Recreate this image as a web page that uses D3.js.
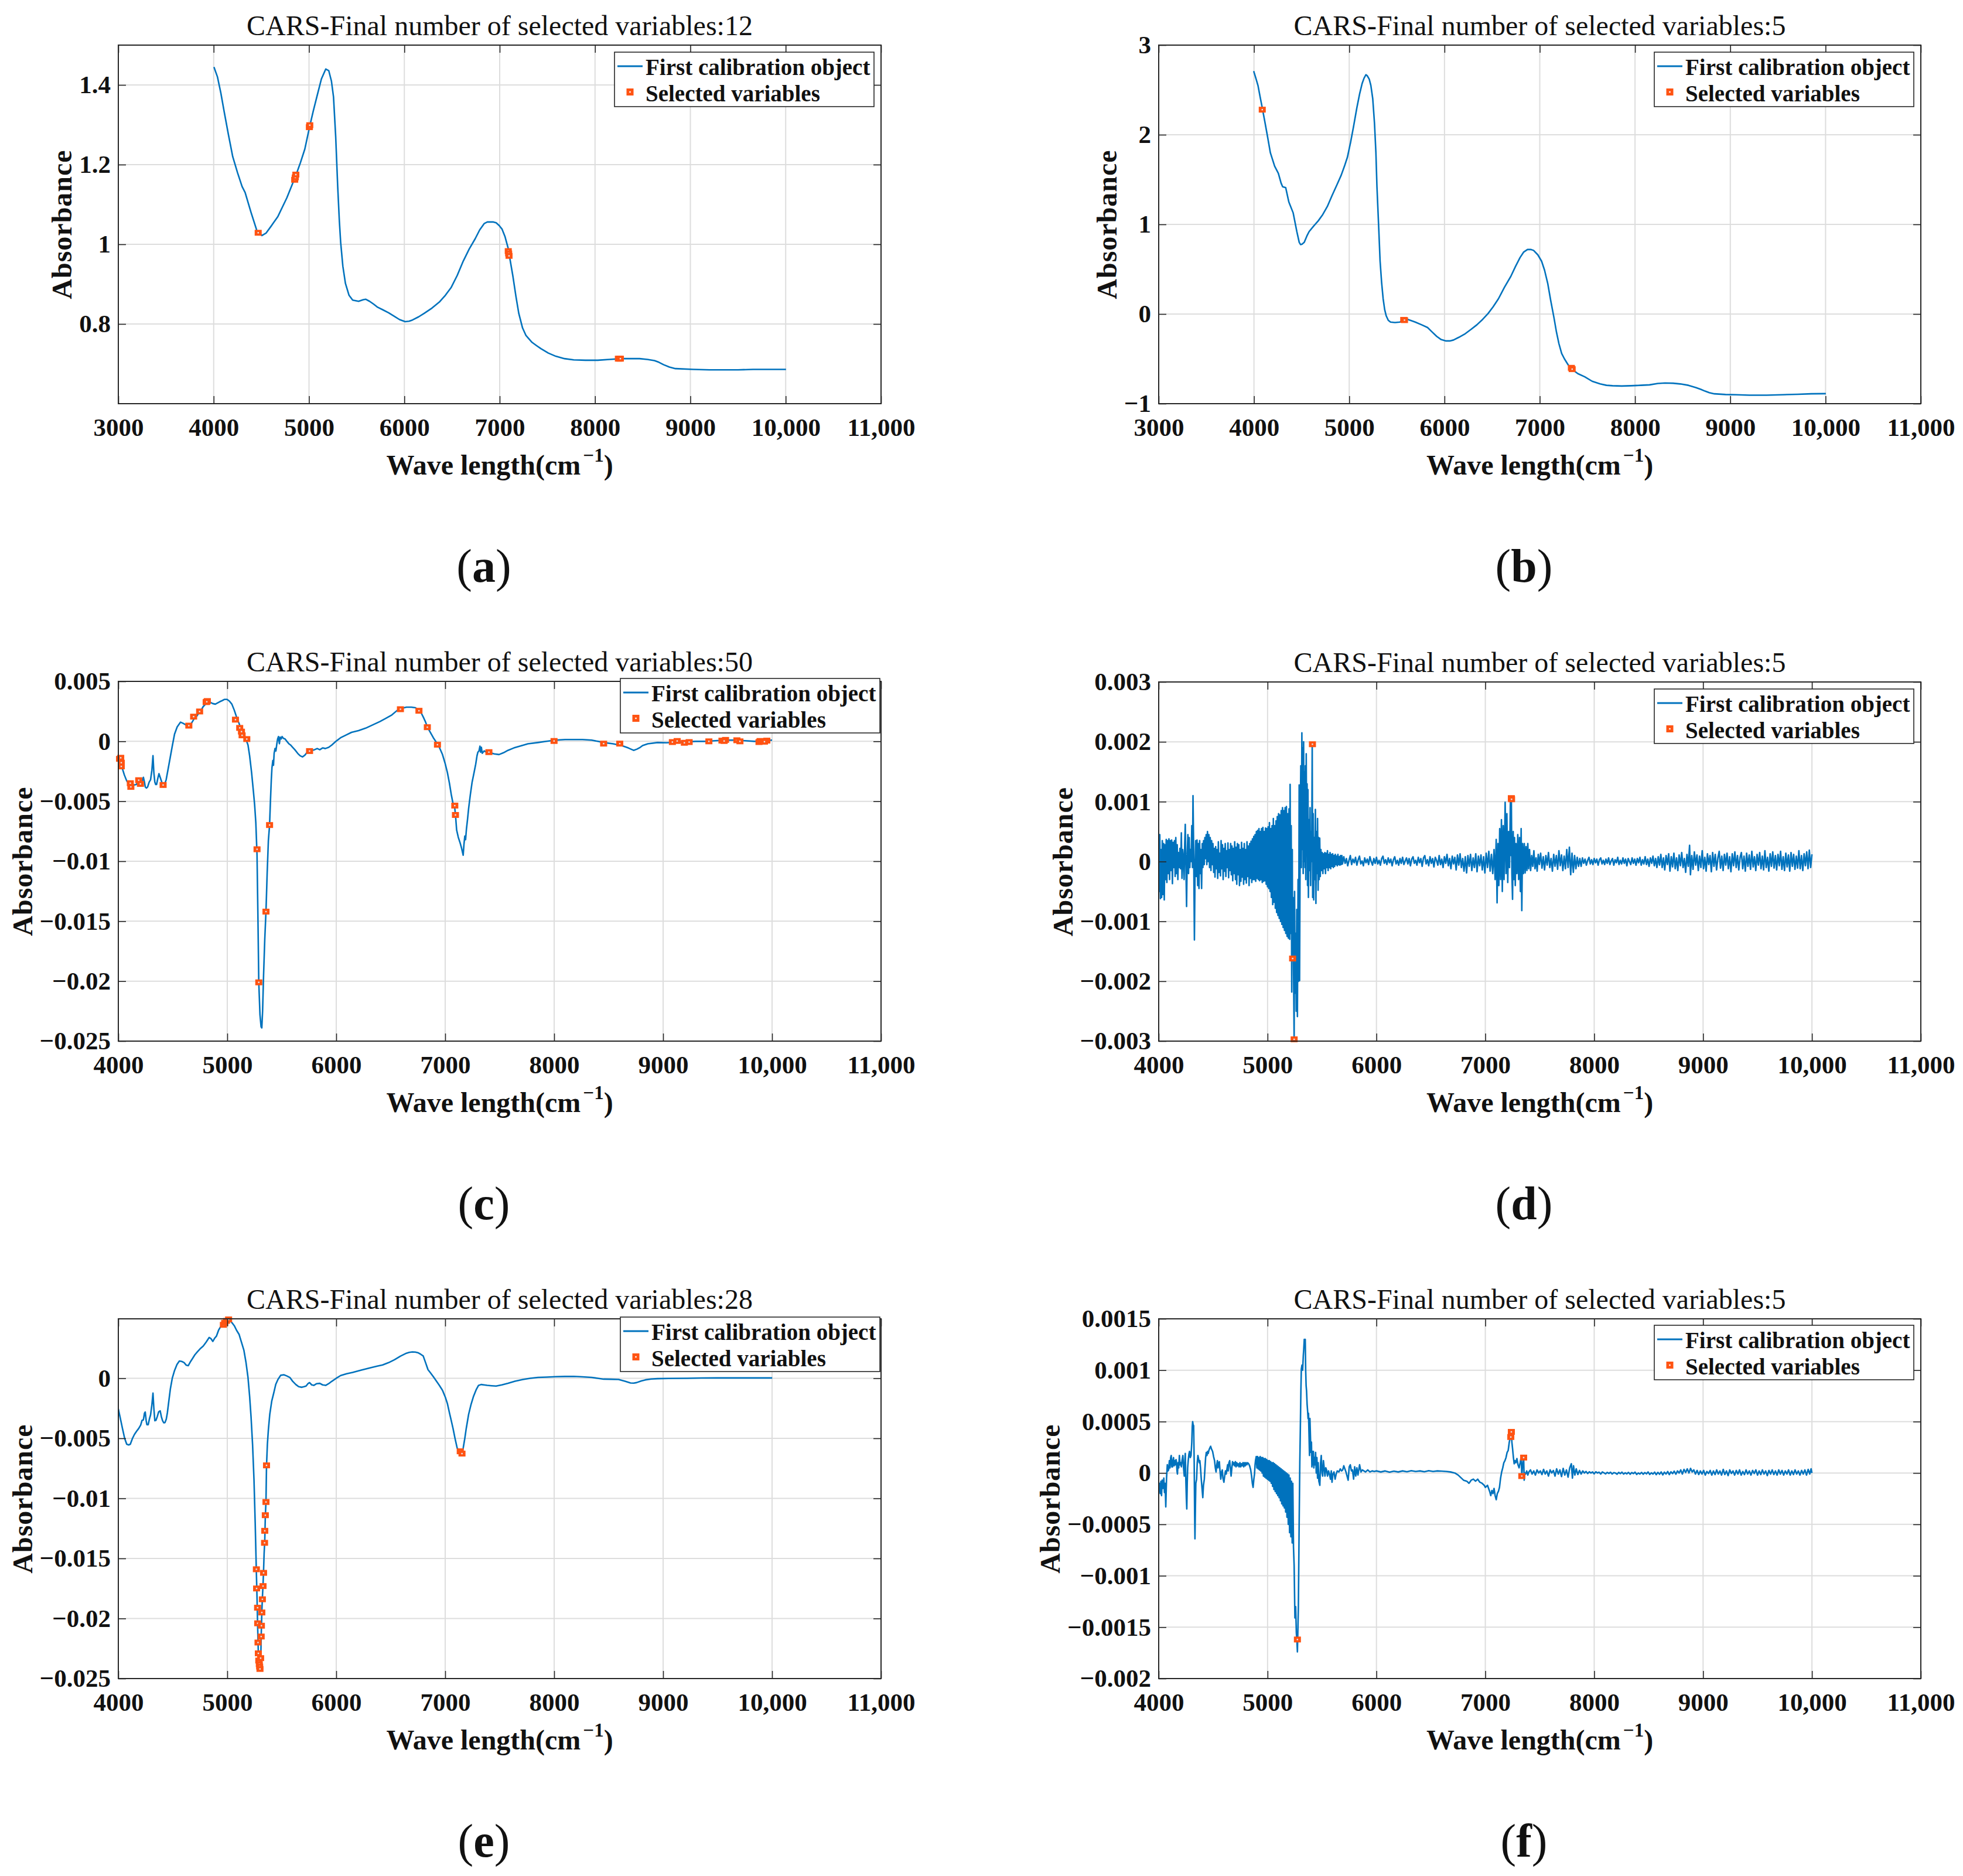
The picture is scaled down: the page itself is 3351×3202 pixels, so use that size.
<!DOCTYPE html>
<html>
<head>
<meta charset="utf-8">
<title>CARS selected variables</title>
<script src="https://d3js.org/d3.v7.min.js"></script>
<style>
  body { margin: 0; background: #fff; }
  svg text { font-family: 'Liberation Serif', 'Times New Roman', serif; }
</style>
</head>
<body>
<script>
// ---- data ----
// (a), (b): absorbance. (c)-(f): values kept in units of 10^-3 absorbance,
// tick labels below are the real numbers.

var titles = [
  'CARS-Final number of selected variables:12',
  'CARS-Final number of selected variables:5',
  'CARS-Final number of selected variables:50',
  'CARS-Final number of selected variables:5',
  'CARS-Final number of selected variables:28',
  'CARS-Final number of selected variables:5'
];
var panelLetters = ['a', 'b', 'c', 'd', 'e', 'f'];
var legendLabels = ['First calibration object', 'Selected variables'];

var xTicksWide = [3000, 4000, 5000, 6000, 7000, 8000, 9000, 10000, 11000];
var xTickLabelsWide = ['3000', '4000', '5000', '6000', '7000', '8000', '9000', '10,000', '11,000'];
var xTicksNarrow = [4000, 5000, 6000, 7000, 8000, 9000, 10000, 11000];
var xTickLabelsNarrow = ['4000', '5000', '6000', '7000', '8000', '9000', '10,000', '11,000'];

var yTicksA = [0.8, 1, 1.2, 1.4];
var yTickLabelsA = ['0.8', '1', '1.2', '1.4'];
var yTicksB = [-1, 0, 1, 2, 3];
var yTickLabelsB = ['\u22121', '0', '1', '2', '3'];
var yTicksC = [-25, -20, -15, -10, -5, 0, 5];
var yTickLabelsC = ['\u22120.025', '\u22120.02', '\u22120.015', '\u22120.01', '\u22120.005', '0', '0.005'];
var yTicksD = [-3, -2, -1, 0, 1, 2, 3];
var yTickLabelsD = ['\u22120.003', '\u22120.002', '\u22120.001', '0', '0.001', '0.002', '0.003'];
var yTicksE = [-25, -20, -15, -10, -5, 0];
var yTickLabelsE = ['\u22120.025', '\u22120.02', '\u22120.015', '\u22120.01', '\u22120.005', '0'];
var yTicksF = [-2, -1.5, -1, -0.5, 0, 0.5, 1, 1.5];
var yTickLabelsF = ['\u22120.002', '\u22120.0015', '\u22120.001', '\u22120.0005', '0', '0.0005', '0.001', '0.0015'];

var specA = [[4003,1.445],[4040,1.42],[4075,1.38],[4110,1.333],[4155,1.275],[4200,1.22],[4250,1.18],[4298,1.145],
  [4330,1.13],[4392,1.08],[4455,1.033],[4505,1.022],[4549,1.028],[4610,1.048],[4674,1.07],[4720,1.093],[4768,1.117],
  [4815,1.145],[4862,1.173],[4910,1.205],[4956,1.239],[5006,1.295],[5045,1.335],[5082,1.37],[5130,1.415],[5176,1.44],
  [5207,1.436],[5235,1.41],[5257,1.37],[5280,1.27],[5301,1.145],[5318,1.06],[5332,1.005],[5355,0.945],[5382,0.902],
  [5420,0.872],[5458,0.86],[5520,0.857],[5570,0.861],[5596,0.862],[5635,0.857],[5677,0.85],[5720,0.842],[5771,0.836],
  [5835,0.828],[5897,0.819],[5950,0.811],[6009,0.806],[6050,0.807],[6085,0.81],[6150,0.818],[6210,0.827],[6290,0.84],
  [6367,0.855],[6430,0.872],[6492,0.892],[6555,0.922],[6618,0.958],[6680,0.988],[6743,1.014],[6790,1.036],[6837,1.052],
  [6870,1.056],[6900,1.056],[6935,1.056],[6963,1.054],[6995,1.047],[7025,1.038],[7055,1.02],[7088,0.991],[7110,0.96],
  [7138,0.921],[7170,0.87],[7200,0.827],[7240,0.79],[7276,0.771],[7339,0.754],[7385,0.746],[7433,0.738],[7510,0.727],
  [7589,0.719],[7680,0.713],[7777,0.71],[7900,0.709],[8028,0.709],[8150,0.711],[8279,0.713],[8380,0.713],[8467,0.713],
  [8550,0.711],[8624,0.708],[8670,0.704],[8718,0.698],[8780,0.692],[8843,0.688],[9031,0.686],[9200,0.685],[9345,0.685],
  [9500,0.685],[9658,0.686],[9850,0.686],[10003,0.686]];
var selA = [[4467,1.029],[4850,1.162],[4856,1.168],[4862,1.175],[5004,1.294],[5008,1.299],[7090,0.983],[7094,0.977],
  [7098,0.971],[8245,0.713],[8256,0.713],[8266,0.713]];

var specB = [[3997,2.71],[4020,2.63],[4042,2.55],[4065,2.42],[4087,2.30],[4115,2.14],[4139,2.0],[4172,1.8],[4217,1.65],
  [4256,1.57],[4285,1.46],[4301,1.42],[4333,1.41],[4366,1.25],[4411,1.13],[4450,0.92],[4475,0.8],[4489,0.775],[4505,0.78],
  [4528,0.8],[4555,0.87],[4579,0.92],[4625,0.98],[4675,1.04],[4722,1.11],[4770,1.2],[4819,1.32],[4870,1.44],[4916,1.55],
  [4950,1.65],[4981,1.75],[5015,1.92],[5045,2.09],[5080,2.3],[5110,2.46],[5135,2.57],[5155,2.63],[5175,2.67],[5188,2.66],
  [5210,2.62],[5227,2.55],[5247,2.4],[5265,2.13],[5280,1.8],[5291,1.42],[5310,0.95],[5324,0.59],[5340,0.35],[5356,0.17],
  [5372,0.05],[5388,-0.02],[5410,-0.07],[5434,-0.09],[5480,-0.095],[5531,-0.09],[5570,-0.07],[5615,-0.06],[5655,-0.075],
  [5693,-0.09],[5760,-0.12],[5822,-0.15],[5870,-0.2],[5919,-0.25],[5965,-0.285],[6016,-0.3],[6055,-0.3],[6094,-0.29],
  [6150,-0.26],[6210,-0.225],[6280,-0.17],[6340,-0.12],[6400,-0.06],[6456,0.004],[6510,0.08],[6566,0.17],[6630,0.3],
  [6696,0.42],[6745,0.53],[6793,0.63],[6830,0.69],[6871,0.72],[6905,0.72],[6935,0.71],[6980,0.66],[7019,0.59],[7050,0.49],
  [7084,0.34],[7115,0.15],[7149,-0.04],[7175,-0.2],[7201,-0.33],[7230,-0.44],[7259,-0.5],[7300,-0.57],[7343,-0.62],
  [7400,-0.665],[7472,-0.7],[7550,-0.75],[7634,-0.78],[7700,-0.795],[7764,-0.8],[7860,-0.803],[7958,-0.8],[8060,-0.795],
  [8152,-0.79],[8240,-0.775],[8314,-0.77],[8400,-0.772],[8476,-0.78],[8560,-0.795],[8638,-0.82],[8690,-0.84],[8735,-0.86],
  [8780,-0.877],[8832,-0.89],[8950,-0.898],[9058,-0.9],[9200,-0.905],[9382,-0.905],[9550,-0.9],[9706,-0.895],[9850,-0.89],
  [10003,-0.888]];
var selB = [[4087,2.28],[5572,-0.065],[5580,-0.068],[7332,-0.60],[7340,-0.615]];

var specC = [[4000,-1.3],[4012,-1.6],[4025,-1.9],[4038,-2.3],[4055,-2.8],[4077,-3.3],[4100,-3.6],[4121,-3.7],[4140,-3.65],
  [4165,-3.6],[4185,-3.3],[4203,-3.2],[4220,-3.3],[4230,-3.0],[4240,-3.4],[4247,-3.8],[4258,-3.9],[4269,-3.8],[4283,-3.4],
  [4296,-3.2],[4308,-2.4],[4318,-1.2],[4326,-2.6],[4335,-3.4],[4343,-3.6],[4351,-3.6],[4362,-3.1],[4373,-2.7],[4384,-3.0],
  [4395,-3.3],[4406,-3.6],[4417,-3.8],[4428,-3.5],[4439,-3.2],[4455,-2.4],[4477,-1.3],[4495,-0.4],[4516,0.6],[4540,1.2],
  [4571,1.6],[4595,1.5],[4614,1.4],[4636,1.3],[4658,1.3],[4677,1.6],[4697,1.9],[4720,2.1],[4741,2.4],[4760,2.6],[4779,2.9],
  [4800,3.1],[4823,3.3],[4845,3.25],[4867,3.15],[4890,3.1],[4910,3.2],[4930,3.3],[4954,3.4],[4975,3.5],[4998,3.5],
  [5020,3.35],[5042,3.1],[5064,2.6],[5086,2.0],[5108,1.5],[5130,0.9],[5150,0.5],[5170,0.2],[5190,-0.3],[5205,-1.2],
  [5223,-2.6],[5240,-4.2],[5251,-5.3],[5262,-6.8],[5273,-9.5],[5281,-14.5],[5289,-20.1],[5300,-22.8],[5310,-23.8],
  [5317,-23.9],[5324,-22.5],[5333,-19.5],[5344,-16.5],[5355,-14.2],[5366,-11.0],[5377,-8.3],[5388,-7.0],[5396,-5.0],
  [5404,-3.2],[5410,-2.2],[5418,-1.6],[5424,-2.0],[5430,-1.0],[5438,-0.6],[5446,-0.8],[5455,-0.2],[5462,0.2],[5470,0.4],
  [5478,-0.2],[5486,0.35],[5495,0.2],[5503,0.4],[5515,0.25],[5530,0.2],[5547,0.0],[5565,-0.2],[5580,-0.3],[5600,-0.5],
  [5620,-0.7],[5646,-1.0],[5668,-1.2],[5690,-1.3],[5712,-1.15],[5734,-0.9],[5755,-0.8],[5777,-0.75],[5800,-0.7],
  [5825,-0.6],[5849,-0.7],[5875,-0.55],[5900,-0.6],[5931,-0.5],[5960,-0.3],[5997,0.0],[6040,0.3],[6084,0.5],[6140,0.75],
  [6205,0.9],[6270,1.1],[6342,1.4],[6400,1.65],[6452,1.9],[6510,2.2],[6562,2.6],[6600,2.75],[6644,2.85],[6690,2.85],
  [6727,2.8],[6760,2.6],[6781,2.35],[6800,2.0],[6820,1.6],[6836,1.2],[6860,0.8],[6891,0.3],[6920,-0.1],[6946,-0.5],
  [6975,-1.1],[7001,-1.9],[7020,-2.6],[7039,-3.5],[7055,-4.4],[7072,-5.2],[7088,-5.6],[7094,-6.1],[7105,-7.4],[7120,-8.0],
  [7138,-8.5],[7150,-8.9],[7160,-9.3],[7165,-9.5],[7172,-8.6],[7180,-7.9],[7187,-8.2],[7195,-7.3],[7205,-6.5],[7215,-5.6],
  [7230,-4.5],[7247,-3.4],[7265,-2.6],[7280,-1.9],[7292,-1.2],[7300,-0.9],[7310,-0.8],[7319,-0.4],[7325,-0.9],[7332,-0.5],
  [7340,-1.0],[7357,-0.8],[7380,-0.9],[7412,-0.95],[7450,-1.05],[7494,-1.1],[7535,-0.95],[7576,-0.75],[7630,-0.55],
  [7686,-0.4],[7760,-0.2],[7851,-0.1],[7930,0.0],[8015,0.1],[8100,0.15],[8180,0.15],[8260,0.15],[8344,0.1],[8400,0.0],
  [8454,-0.1],[8540,-0.2],[8619,-0.35],[8680,-0.55],[8729,-0.75],[8760,-0.65],[8790,-0.5],[8812,-0.35],[8860,-0.2],
  [8949,-0.1],[9030,-0.12],[9114,-0.08],[9200,-0.05],[9300,0.0],[9388,0.0],[9480,0.05],[9570,0.1],[9662,0.1],[9750,0.05],
  [9840,0.0],[9920,0.05],[10000,0.1]];
var selC = [[4011,-1.46],[4022,-1.37],[4027,-1.78],[4027,-2.09],[4110,-3.49],[4115,-3.8],[4187,-3.24],[4203,-3.55],
  [4411,-3.64],[4647,1.31],[4691,2.06],[4746,2.49],[4806,3.27],[4817,3.36],[4812,3.3],[5075,1.81],[5114,1.12],[5130,0.81],
  [5136,0.5],[5179,0.19],[5273,-9.0],[5289,-20.1],[5355,-14.2],[5388,-6.98],[5755,-0.81],[6589,2.68],[6759,2.55],
  [6836,1.18],[6929,-0.28],[7088,-5.36],[7094,-6.14],[7401,-0.9],[7999,0.03],[8454,-0.19],[8602,-0.19],[9085,-0.06],
  [9129,0.03],[9195,-0.12],[9239,-0.06],[9420,0.0],[9540,0.06],[9573,0.12],[9677,0.09],[9705,0.0],[9880,-0.06],
  [9890,0.03],[9908,0.0],[9952,0.06],[9930,-0.03],[9560,0.03]];

var specD = [[4000,0.1],[4005,-0.5],[4010,0.45],[4016,-0.62],[4022,0.2],[4027,-0.6],[4033,0.35],[4039,-0.55],[4045,0.3],
  [4051,-0.64],[4057,0.28],[4063,-0.3],[4069,0.37],[4075,-0.35],[4082,0.35],[4088,-0.2],[4094,0.38],[4100,-0.3],[4107,0.35],
  [4113,-0.15],[4119,0.36],[4126,-0.37],[4132,0.32],[4138,-0.1],[4145,0.35],[4151,-0.25],[4157,0.4],[4163,-0.2],[4170,0.28],
  [4176,-0.3],[4182,0.15],[4188,-0.1],[4195,0.22],[4201,-0.12],[4208,0.48],[4214,-0.28],[4220,0.2],[4227,0.05],[4233,-0.3],
  [4239,0.3],[4244,0.62],[4250,-0.1],[4256,-0.75],[4262,0.1],[4268,0.45],[4274,-0.2],[4280,0.4],[4286,-0.1],[4292,0.2],
  [4298,0.0],[4304,0.6],[4310,-0.1],[4315,1.1],[4321,0.2],[4328,-1.31],[4334,-0.1],[4340,0.35],[4346,-0.25],[4352,0.36],
  [4358,-0.4],[4364,0.3],[4370,-0.45],[4376,0.35],[4382,-0.2],[4388,0.2],[4394,-0.45],[4400,0.3],[4406,-0.1],[4412,0.35],
  [4418,-0.05],[4424,0.4],[4430,0.05],[4436,0.45],[4442,-0.05],[4448,0.5],[4455,0.0],[4461,0.45],[4467,-0.1],[4473,0.4],
  [4480,-0.15],[4486,0.35],[4492,-0.05],[4498,0.3],[4505,-0.18],[4511,0.22],[4517,-0.26],[4523,0.25],[4530,-0.12],[4536,0.2],
  [4542,-0.28],[4548,0.33],[4555,-0.18],[4561,0.14],[4567,-0.24],[4573,0.35],[4580,-0.12],[4586,0.28],[4592,-0.3],[4598,0.22],
  [4605,-0.16],[4611,0.3],[4617,-0.25],[4623,0.18],[4630,-0.1],[4636,0.31],[4642,-0.27],[4648,0.2],[4655,-0.15],[4661,0.3],
  [4667,-0.22],[4673,0.26],[4680,-0.32],[4686,0.22],[4692,-0.2],[4698,0.33],[4705,-0.3],[4711,0.24],[4717,-0.38],[4723,0.3],
  [4730,-0.22],[4736,0.28],[4742,-0.4],[4748,0.2],[4755,-0.33],[4761,0.32],[4767,-0.26],[4773,0.22],[4780,-0.38],[4786,0.3],
  [4792,-0.3],[4798,0.2],[4805,-0.36],[4811,0.33],[4817,-0.25],[4823,0.26],[4830,-0.4],[4836,0.3],[4842,-0.28],[4848,0.34],
  [4855,-0.35],[4861,0.38],[4867,-0.3],[4873,0.42],[4879,-0.3],[4885,0.45],[4891,-0.33],[4897,0.5],[4903,-0.28],[4909,0.52],
  [4915,-0.3],[4921,0.55],[4927,-0.32],[4933,0.5],[4939,-0.3],[4945,0.55],[4951,-0.35],[4957,0.57],[4963,-0.33],[4969,0.5],
  [4975,-0.32],[4981,0.56],[4987,-0.38],[4993,0.55],[4999,-0.42],[5005,0.58],[5011,-0.45],[5017,0.65],[5023,-0.5],
  [5029,0.55],[5035,-0.6],[5041,0.6],[5047,-0.72],[5053,0.72],[5059,-0.68],[5065,0.6],[5071,-0.78],[5077,0.68],[5083,-0.85],
  [5089,0.75],[5095,-0.9],[5101,0.8],[5107,-0.95],[5113,0.78],[5119,-1.0],[5125,0.85],[5131,-1.05],[5137,0.9],[5143,-1.1],
  [5149,0.85],[5155,-1.15],[5161,0.9],[5167,-1.2],[5173,0.92],[5179,-1.25],[5185,0.8],[5191,-1.28],[5197,0.88],[5203,-1.3],
  [5207,1.29],[5212,-1.2],[5217,0.6],[5222,-2.18],[5227,0.2],[5230,-1.62],[5234,-0.6],[5239,-1.9],[5244,-3.0],[5248,-0.5],
  [5253,-2.2],[5258,-1.2],[5263,-2.5],[5268,-0.8],[5274,-2.59],[5280,-0.3],[5285,-2.0],[5290,1.28],[5294,-1.99],[5300,0.6],
  [5305,1.6],[5310,-0.1],[5315,2.15],[5319,0.2],[5323,1.9],[5327,-0.2],[5331,2.0],[5335,0.0],[5339,1.5],[5343,-0.1],
  [5347,1.6],[5351,-0.3],[5355,1.8],[5359,0.3],[5363,1.3],[5367,-0.4],[5371,1.2],[5375,-0.6],[5380,0.7],[5385,-0.15],
  [5390,0.9],[5395,-0.4],[5400,0.5],[5405,0.0],[5410,1.96],[5414,-0.6],[5419,0.8],[5424,-0.64],[5429,0.4],[5434,-0.3],
  [5439,0.87],[5444,-0.7],[5449,0.5],[5454,-0.2],[5459,0.72],[5464,-0.48],[5469,0.4],[5474,-0.3],[5479,0.39],[5484,-0.25],
  [5490,0.2],[5496,-0.15],[5502,0.15],[5508,-0.2],[5514,0.13],[5520,-0.12],[5526,0.15],[5532,-0.2],[5538,0.14],[5544,-0.1],
  [5550,0.18],[5556,-0.15],[5562,0.12],[5568,-0.1],[5574,0.15],[5580,-0.12],[5586,0.12],[5592,-0.08],[5598,0.13],
  [5604,-0.1],[5610,0.1],[5616,-0.08],[5622,0.12],[5628,-0.05],[5634,0.09],[5640,-0.07],[5646,0.12],[5652,-0.05],
  [5658,0.08],[5664,-0.06],[5670,0.1],[5676,-0.05],[5682,0.1],[5688,-0.04],
  [5700,0.08],[5712,-0.03],[5724,0.05],[5736,-0.07],[5748,0.02],[5760,0.1],[5772,-0.05],[5784,0.04],[5796,-0.02],
  [5808,0.07],[5820,-0.06],[5832,0.03],[5844,0.09],[5856,-0.04],[5868,0.01],[5880,-0.07],[5892,0.06],[5904,-0.02],
  [5916,0.04],[5928,-0.05],[5940,0.08],[5952,0.0],[5964,-0.06],[5976,0.05],[5988,-0.03],[6000,0.07],[6012,-0.04],
  [6024,0.02],[6036,-0.06],[6048,0.05],[6060,0.09],[6072,-0.03],[6084,0.03],[6096,-0.05],[6108,0.06],[6120,-0.02],
  [6132,0.04],[6144,-0.07],[6156,0.03],[6168,0.08],[6180,-0.04],[6192,0.02],[6204,-0.06],[6216,0.05],[6228,-0.03],
  [6240,0.07],[6252,-0.05],[6264,0.01],[6276,0.06],[6288,-0.04],[6300,0.05],[6312,-0.07],[6324,0.04],[6336,0.08],
  [6348,-0.03],[6360,0.02],[6372,-0.06],[6384,0.07],[6396,-0.02],[6408,0.05],[6420,-0.08],[6432,0.06],[6444,0.1],
  [6456,-0.04],[6468,0.03],[6480,-0.07],[6492,0.08],[6504,-0.03],[6516,0.05],[6528,-0.09],[6540,0.07],[6552,0.02],
  [6564,-0.06],[6576,0.1],[6588,-0.05],[6600,0.04],[6612,-0.1],[6624,0.08],[6636,-0.03],[6648,0.12],[6660,-0.07],
  [6672,0.05],[6684,-0.12],[6696,0.09],[6708,-0.04],[6720,0.07],[6732,-0.14],[6744,0.11],[6756,-0.06],[6768,0.13],
  [6780,-0.1],[6792,0.05],[6804,-0.16],[6816,0.08],[6828,-0.19],[6840,0.1],[6852,-0.08],[6864,0.12],[6876,-0.15],
  [6888,0.06],[6900,-0.1],[6912,0.13],[6924,-0.17],[6936,0.09],[6948,-0.07],[6960,0.11],[6972,-0.14],[6984,0.08],
  [6996,-0.19],[7008,0.14],[7020,-0.1],[7032,0.17],[7044,-0.16],[7056,0.12],[7068,-0.2],[7080,0.2],[7090,-0.3],
  [7100,0.37],[7108,-0.69],[7116,0.3],[7124,-0.4],[7132,0.55],[7140,-0.3],[7148,0.7],[7156,-0.5],[7164,0.6],[7172,-0.3],
  [7182,0.99],[7190,-0.2],[7198,0.8],[7206,-0.35],[7214,0.5],[7222,-0.1],[7230,0.99],[7236,0.1],[7239,1.06],[7244,-0.2],
  [7250,-0.63],[7256,0.5],[7262,-0.3],[7268,0.4],[7275,-0.4],[7282,0.3],[7290,-0.2],[7298,0.45],[7306,-0.3],[7314,0.4],
  [7322,-0.5],[7329,0.55],[7335,-0.82],[7342,0.3],[7350,-0.2],[7358,0.3],[7366,-0.19],[7374,0.25],[7382,-0.15],[7390,0.3],
  [7398,-0.12],[7406,0.2],[7416,-0.15],[7426,0.1],[7436,-0.08],[7446,0.18],[7456,-0.12],[7466,0.06],[7476,-0.16],
  [7486,0.12],[7496,-0.05],[7508,0.14],[7520,-0.11],[7532,0.08],[7544,-0.14],[7556,0.1],[7568,-0.06],[7580,0.15],
  [7592,-0.1],[7604,0.05],[7616,-0.16],[7628,0.12],[7640,-0.08],[7652,0.1],[7664,-0.13],[7676,0.18],[7688,-0.07],
  [7700,0.11],[7712,-0.15],[7724,0.09],[7736,-0.12],[7748,0.2],[7760,-0.1],[7772,0.24],[7784,-0.22],[7796,0.14],
  [7808,-0.18],[7820,0.1],[7832,-0.12],[7844,0.07],[7856,-0.08],[7868,0.05],
  [7880,-0.08],[7892,0.06],[7904,-0.03],[7916,0.04],[7928,-0.06],[7940,0.02],[7952,0.07],[7964,-0.04],[7976,0.03],
  [7988,-0.05],[8000,0.05],[8012,-0.02],[8024,0.04],[8036,-0.06],[8048,0.03],[8060,0.06],[8072,-0.04],[8084,0.02],
  [8096,-0.05],[8108,0.04],[8120,-0.03],[8132,0.06],[8144,-0.05],[8156,0.01],[8168,0.05],[8180,-0.06],[8192,0.03],
  [8204,-0.02],[8216,0.07],[8228,-0.05],[8240,0.02],[8252,-0.04],[8264,0.06],[8276,-0.03],[8288,0.04],[8300,-0.07],
  [8312,0.05],[8324,0.0],[8336,-0.05],[8348,0.06],[8360,-0.03],[8372,0.04],[8384,-0.06],[8396,0.05],[8408,-0.02],
  [8420,0.07],[8432,-0.06],[8444,0.03],[8456,-0.04],[8468,0.08],[8480,-0.05],[8492,0.04],[8504,-0.08],[8516,0.06],
  [8528,-0.03],[8540,0.09],[8552,-0.07],[8564,0.05],[8576,-0.1],[8588,0.08],[8600,-0.06],[8612,0.12],[8624,-0.1],
  [8636,0.06],[8648,-0.14],[8660,0.1],[8672,-0.05],[8684,0.13],[8696,-0.16],[8708,0.08],[8720,-0.09],[8732,0.14],
  [8744,-0.12],[8756,0.06],[8768,-0.15],[8780,0.11],[8792,-0.07],[8804,0.15],[8816,-0.1],[8828,0.05],[8840,-0.18],
  [8852,0.12],[8864,-0.08],[8876,0.27],[8884,-0.22],[8896,0.1],[8908,-0.13],[8920,0.16],[8932,-0.06],[8944,0.11],
  [8956,-0.15],[8968,0.09],[8980,-0.1],[8992,0.18],[9004,-0.12],[9016,0.07],[9028,-0.16],[9040,0.13],[9052,-0.05],
  [9064,0.1],[9076,-0.17],[9088,0.15],[9100,-0.08],[9112,0.12],[9124,-0.14],[9136,0.06],[9148,0.17],[9160,-0.11],
  [9172,0.09],[9184,-0.15],[9196,0.12],[9208,-0.06],[9220,0.14],[9232,-0.12],[9244,0.08],[9256,-0.17],[9268,0.13],
  [9280,-0.07],[9292,0.16],[9304,-0.1],[9316,0.1],[9328,-0.14],[9340,0.07],[9352,0.15],[9364,-0.12],[9376,0.09],
  [9388,-0.16],[9400,0.14],[9412,-0.08],[9424,0.11],[9436,-0.13],[9448,0.17],[9460,-0.09],[9472,0.08],[9484,-0.15],
  [9496,0.12],[9508,-0.06],[9520,0.15],[9532,-0.12],[9544,0.09],[9556,-0.14],[9568,0.18],[9580,-0.1],[9592,0.07],
  [9604,-0.16],[9616,0.13],[9628,-0.08],[9640,0.16],[9652,-0.11],[9664,0.1],[9676,-0.14],[9688,0.12],[9700,-0.07],
  [9712,0.17],[9724,-0.13],[9736,0.08],[9748,-0.15],[9760,0.14],[9772,-0.09],[9784,0.11],[9796,-0.16],[9808,0.15],
  [9820,-0.08],[9832,0.12],[9844,-0.13],[9856,0.09],[9868,-0.11],[9880,0.18],[9892,-0.12],[9904,0.1],[9916,-0.15],
  [9928,0.13],[9940,-0.07],[9952,0.16],[9964,-0.12],[9976,0.19],[9988,-0.1],[10000,0.12]];
var selD = [[5230,-1.62],[5244,-2.97],[5412,1.96],[7239,1.06],[7241,1.04]];

var specE = [[4000,-2.55],[4020,-3.4],[4038,-4.18],[4058,-5.0],[4077,-5.49],[4095,-5.55],[4110,-5.49],[4130,-5.0],
  [4148,-4.67],[4168,-4.4],[4187,-4.18],[4205,-3.9],[4218,-3.5],[4230,-3.46],[4240,-2.9],[4247,-2.81],[4255,-3.5],
  [4262,-3.86],[4274,-3.86],[4285,-3.4],[4296,-3.04],[4308,-2.2],[4318,-1.24],[4326,-2.5],[4335,-3.53],[4345,-3.5],
  [4357,-3.2],[4370,-2.8],[4384,-2.71],[4395,-3.2],[4406,-3.53],[4417,-3.7],[4428,-3.69],[4440,-3.4],[4450,-2.88],
  [4462,-2.0],[4477,-0.92],[4495,0.0],[4516,0.65],[4538,1.15],[4560,1.44],[4582,1.4],[4603,1.31],[4622,1.1],[4642,1.05],
  [4660,1.35],[4680,1.63],[4702,1.95],[4724,2.19],[4750,2.45],[4779,2.68],[4805,3.0],[4834,3.4],[4850,3.3],[4867,3.07],
  [4885,3.35],[4900,3.5],[4920,4.0],[4944,4.38],[4965,4.55],[4987,4.71],[5010,4.85],[5026,4.8],[5045,4.6],[5064,4.38],
  [5085,4.0],[5108,3.66],[5130,3.0],[5152,2.35],[5172,1.3],[5190,0.07],[5205,-1.5],[5218,-3.2],[5232,-5.5],[5245,-8.43],
  [5256,-12.0],[5267,-16.2],[5273,-18.3],[5278,-20.4],[5284,-22.6],[5289,-23.5],[5295,-23.9],[5300,-24.2],[5306,-24.1],
  [5311,-21.5],[5317,-19.5],[5322,-18.3],[5328,-17.2],[5333,-16.0],[5338,-14.6],[5344,-13.5],[5349,-11.5],[5355,-10.3],
  [5360,-7.3],[5368,-5.5],[5377,-4.3],[5390,-3.0],[5408,-1.9],[5426,-1.24],[5445,-0.5],[5465,-0.1],[5490,0.25],[5519,0.29],
  [5545,0.2],[5574,0.07],[5600,-0.25],[5629,-0.52],[5655,-0.7],[5684,-0.75],[5705,-0.7],[5723,-0.65],[5740,-0.45],
  [5755,-0.36],[5775,-0.55],[5794,-0.59],[5820,-0.45],[5849,-0.42],[5875,-0.55],[5903,-0.59],[5930,-0.45],[5958,-0.26],
  [6000,0.0],[6041,0.23],[6095,0.38],[6150,0.49],[6230,0.68],[6315,0.88],[6370,1.0],[6425,1.11],[6480,1.3],[6534,1.54],
  [6590,1.85],[6644,2.09],[6670,2.16],[6698,2.19],[6725,2.18],[6753,2.12],[6775,2.0],[6798,1.86],[6820,1.3],[6842,0.72],
  [6865,0.45],[6891,0.13],[6920,-0.25],[6946,-0.59],[6975,-1.0],[7001,-1.57],[7020,-2.1],[7039,-2.88],[7055,-3.5],
  [7072,-4.18],[7090,-5.0],[7110,-5.82],[7125,-6.0],[7138,-6.14],[7150,-6.2],[7158,-6.1],[7165,-5.82],[7180,-5.0],
  [7193,-4.18],[7215,-3.0],[7236,-2.22],[7260,-1.5],[7286,-0.92],[7305,-0.6],[7330,-0.52],[7355,-0.55],[7385,-0.59],
  [7425,-0.62],[7467,-0.65],[7520,-0.55],[7577,-0.42],[7640,-0.25],[7714,-0.1],[7780,0.0],[7851,0.07],[7930,0.1],
  [8015,0.13],[8100,0.15],[8180,0.16],[8260,0.12],[8344,0.07],[8400,0.0],[8454,-0.07],[8520,-0.08],[8591,-0.1],
  [8650,-0.25],[8701,-0.39],[8730,-0.4],[8756,-0.36],[8800,-0.22],[8838,-0.13],[8890,-0.06],[8948,-0.03],[9050,-0.01],
  [9222,0.0],[9350,0.02],[9496,0.03],[9650,0.03],[9771,0.03],[9900,0.03],[10001,0.03]];
var selE = [[4964,4.45],[4976,4.62],[4993,4.78],[5012,4.9],[5267,-15.9],[5269,-17.5],[5278,-19.1],[5279,-20.4],
  [5282,-22.0],[5285,-22.9],[5289,-23.5],[5294,-23.8],[5297,-24.0],[5300,-24.2],[5360,-7.25],[5355,-10.3],[5349,-11.4],
  [5344,-12.7],[5342,-13.7],[5333,-16.2],[5328,-17.3],[5322,-18.4],[5317,-19.5],[5313,-20.6],[5311,-21.5],[5306,-23.3],
  [7138,-6.08],[7154,-6.27]];

var specF = [[4000,-0.19],[4008,-0.1],[4014,-0.2],[4020,-0.08],[4026,-0.22],[4032,-0.07],[4040,-0.15],[4047,-0.05],
  [4053,-0.19],[4059,-0.1],[4065,-0.33],[4072,-0.05],[4079,0.08],[4085,0.02],[4091,0.03],[4098,0.12],[4104,0.05],
  [4110,0.15],[4115,0.17],[4121,0.06],[4127,0.06],[4132,0.13],[4136,0.15],[4142,0.07],[4148,0.12],[4154,0.08],[4159,0.13],
  [4163,0.11],[4168,0.02],[4172,-0.01],[4178,0.1],[4184,0.05],[4190,0.17],[4196,0.08],[4202,0.1],[4208,0.06],[4214,0.12],
  [4222,0.17],[4228,0.05],[4235,-0.03],[4240,0.12],[4244,0.19],[4250,-0.1],[4254,-0.25],[4258,-0.35],[4262,-0.1],
  [4266,0.05],[4271,0.12],[4277,0.18],[4283,0.21],[4290,0.15],[4297,0.17],[4304,0.3],[4308,0.45],[4312,0.5],[4316,0.47],
  [4321,0.46],[4326,0.1],[4330,-0.4],[4333,-0.64],[4337,-0.35],[4341,-0.1],[4348,-0.06],[4354,0.1],[4360,0.17],
  [4366,0.14],[4372,0.1],[4378,0.12],[4384,0.05],[4391,-0.06],[4398,-0.15],[4405,-0.24],[4411,-0.12],[4419,-0.06],
  [4425,0.05],[4431,0.15],[4437,0.2],[4443,0.17],[4449,0.21],[4455,0.19],[4461,0.22],[4468,0.24],[4477,0.26],[4486,0.23],
  [4495,0.21],[4504,0.16],[4513,0.12],[4520,0.05],[4527,0.01],[4533,0.08],[4539,0.12],[4545,0.05],[4551,0.1],[4557,0.11],
  [4563,0.02],[4570,-0.06],[4577,0.01],[4584,0.03],[4590,-0.05],[4599,-0.09],[4606,-0.03],[4613,0.02],[4620,-0.01],
  [4627,0.04],[4633,0.08],[4638,0.02],[4645,0.1],[4652,0.12],[4658,0.05],[4665,-0.03],[4672,0.05],[4678,0.11],[4683,0.08],
  [4690,0.1],[4697,0.07],[4704,0.11],[4710,0.06],[4717,0.1],[4724,0.07],[4731,0.09],[4738,0.06],[4746,0.1],[4753,0.06],
  [4760,0.09],[4767,0.07],[4774,0.1],[4781,0.06],[4788,0.1],[4795,0.07],[4802,0.1],[4810,0.08],[4817,0.1],[4826,0.09],
  [4835,0.07],[4845,0.03],[4853,-0.03],[4860,-0.1],[4867,-0.14],[4874,-0.06],[4880,-0.01],[4885,0.08],[4889,0.12],
  [4896,0.16],[4902,0.05],[4908,0.16],[4914,0.04],[4920,0.15],[4926,0.03],[4932,0.16],[4938,0.02],[4944,0.15],[4950,0.0],
  [4956,0.15],[4962,-0.03],[4968,0.14],[4974,-0.04],[4980,0.14],[4986,-0.05],[4992,0.13],[4998,-0.06],[5004,0.12],
  [5010,-0.07],[5016,0.12],[5022,-0.08],[5028,0.11],[5034,-0.1],[5040,0.1],[5046,-0.13],[5052,0.1],[5058,-0.16],[5064,0.09],
  [5070,-0.18],[5076,0.08],[5082,-0.2],[5088,0.07],[5094,-0.22],[5100,0.06],[5106,-0.24],[5112,0.05],[5118,-0.27],
  [5124,0.04],[5130,-0.3],[5136,0.03],[5142,-0.32],[5148,0.02],[5154,-0.34],[5160,0.01],[5166,-0.38],[5172,0.0],
  [5178,-0.43],[5184,-0.01],[5190,-0.5],[5196,-0.02],[5202,-0.58],[5208,-0.05],[5214,-0.62],[5220,-0.08],[5226,-0.68],
  [5232,-0.1],[5238,-0.72],[5244,-0.9],[5251,-1.41],[5258,-1.3],[5264,-1.55],[5270,-1.65],[5274,-1.74],[5278,-1.55],
  [5283,-1.3],[5290,-0.5],[5296,0.1],[5301,0.44],[5306,0.8],[5310,1.01],[5316,1.05],[5322,1.0],[5328,1.14],[5332,1.2],
  [5337,1.3],[5342,1.28],[5346,1.3],[5350,1.0],[5354,0.85],[5358,0.8],[5363,0.67],[5368,0.6],[5372,0.53],[5376,0.58],
  [5380,0.4],[5385,0.17],[5389,0.53],[5394,0.35],[5398,0.2],[5403,0.3],[5407,0.06],[5412,0.21],[5416,0.08],[5421,0.21],
  [5425,0.05],[5430,0.15],[5436,0.08],[5441,0.2],[5447,0.0],[5453,0.15],[5459,-0.05],[5465,0.1],[5471,-0.08],[5480,-0.12],
  [5487,0.1],[5493,0.17],[5500,0.0],[5506,-0.03],[5513,0.12],[5520,0.05],[5527,-0.03],[5535,0.05],[5542,0.03],[5550,-0.03],
  [5560,0.02],[5568,-0.01],[5578,-0.06],[5585,0.02],[5592,-0.09],[5600,-0.01],[5610,0.01],[5620,-0.06],[5630,-0.01],
  [5640,0.02],[5655,0.01],[5668,0.04],[5680,0.02],[5690,0.03],[5700,0.07],[5710,0.04],[5720,0.01],[5730,-0.03],
  [5740,-0.07],[5750,0.06],[5760,0.08],[5770,0.02],[5780,0.03],[5790,-0.06],[5800,0.06],[5810,-0.03],[5820,0.05],
  [5830,-0.02],[5845,0.08],[5858,0.01],[5870,0.03],[5885,0.02],[5900,0.01],[5920,0.03],[5940,0.01],[5960,0.02],
  [5980,0.015],[6000,0.02],[6040,0.01],[6080,0.02],[6120,0.008],[6160,0.018],[6200,0.01],[6240,0.02],[6280,0.012],
  [6320,0.022],[6360,0.015],[6400,0.02],[6440,0.012],[6480,0.022],[6520,0.015],[6560,0.02],[6600,0.018],[6640,0.015],
  [6680,0.01],[6720,0.0],[6750,-0.02],[6780,-0.05],[6800,-0.07],[6830,-0.08],[6850,-0.1],[6870,-0.07],[6890,-0.06],
  [6910,-0.08],[6930,-0.06],[6950,-0.09],[6970,-0.1],[6990,-0.12],[7000,-0.14],[7020,-0.12],[7040,-0.18],[7050,-0.22],
  [7060,-0.17],[7070,-0.2],[7080,-0.15],[7090,-0.22],[7100,-0.26],[7110,-0.2],[7120,-0.18],[7130,-0.14],[7140,-0.05],
  [7150,0.01],[7160,0.05],[7170,0.1],[7180,0.12],[7190,0.15],[7200,0.2],[7210,0.22],[7220,0.3],[7230,0.35],[7235,0.38],
  [7239,0.4],[7244,0.3],[7250,0.24],[7258,0.15],[7265,0.09],[7272,0.12],[7280,0.1],[7290,0.14],[7300,0.08],[7310,0.05],
  [7320,0.1],[7330,0.16],[7335,-0.03],[7340,0.05],[7346,0.1],[7352,0.15],[7357,-0.07],[7363,0.0],[7370,-0.01],[7380,0.02],
  [7390,-0.02],[7400,0.01],[7415,0.03],[7430,-0.01],[7445,0.02],[7460,-0.02],[7475,0.03],[7490,0.0],[7505,0.02],
  [7520,-0.015],[7535,0.035],[7550,-0.01],[7565,0.02],[7580,-0.03],[7595,0.03],[7610,0.0],[7625,0.025],[7640,-0.03],
  [7655,0.04],[7670,-0.01],[7685,0.03],[7700,-0.035],[7715,0.045],[7730,-0.02],[7745,0.03],[7760,-0.04],[7775,0.05],
  [7790,0.09],[7800,-0.05],[7810,0.07],[7822,-0.02],[7835,0.04],[7850,-0.015],[7865,0.025],[7880,-0.01],[7895,0.02],
  [7910,0.0],[7925,0.015],[7940,-0.005],[7955,0.012],[7970,0.0],[7985,0.01],[8000,-0.008],[8015,0.012],[8030,0.0],
  [8045,0.008],[8060,-0.01],[8075,0.01],[8090,0.002],[8105,-0.008],[8120,0.006],[8135,-0.004],[8150,0.008],[8165,-0.01],
  [8180,0.004],[8195,0.0],[8210,-0.012],[8225,0.006],[8240,-0.006],[8255,0.008],[8270,-0.01],[8285,0.002],[8300,-0.008],
  [8315,0.006],[8330,-0.012],[8345,0.004],[8360,-0.006],[8375,0.008],[8390,-0.014],[8405,0.0],[8420,-0.01],[8435,0.006],
  [8450,-0.012],[8465,0.004],[8480,-0.008],[8495,0.01],[8510,-0.014],[8525,0.002],[8540,-0.01],[8555,0.008],[8570,-0.016],
  [8585,0.006],[8600,-0.012],[8615,0.01],[8630,-0.018],[8645,0.008],[8660,-0.01],[8675,0.014],[8690,-0.016],[8705,0.012],
  [8720,-0.006],[8735,0.018],[8750,-0.012],[8765,0.02],[8780,0.0],[8795,0.03],[8810,-0.01],[8825,0.035],[8840,0.005],
  [8855,0.04],[8870,0.0],[8885,0.045],[8900,0.01],[8915,0.03],[8930,-0.01],[8945,0.025],[8960,-0.015],[8975,0.02],
  [8990,-0.01],[9005,0.025],[9020,-0.02],[9035,0.015],[9050,-0.005],[9065,0.025],[9080,-0.02],[9095,0.02],[9110,-0.015],
  [9125,0.03],[9140,-0.01],[9155,0.02],[9170,-0.02],[9185,0.035],[9200,-0.015],[9215,0.02],[9230,-0.025],[9245,0.03],
  [9260,-0.005],[9275,0.02],[9290,-0.02],[9305,0.025],[9320,-0.01],[9335,0.03],[9350,-0.02],[9365,0.015],[9380,-0.015],
  [9395,0.03],[9410,-0.01],[9425,0.02],[9440,-0.02],[9455,0.025],[9470,-0.005],[9485,0.03],[9500,-0.02],[9515,0.02],
  [9530,-0.015],[9545,0.03],[9560,-0.01],[9575,0.02],[9590,-0.025],[9605,0.025],[9620,-0.01],[9635,0.03],[9650,-0.015],
  [9665,0.02],[9680,-0.02],[9695,0.03],[9710,-0.01],[9725,0.025],[9740,-0.02],[9755,0.02],[9770,-0.01],[9785,0.03],
  [9800,-0.02],[9815,0.02],[9830,-0.015],[9845,0.03],[9860,-0.01],[9875,0.02],[9890,-0.02],[9905,0.025],[9920,-0.01],
  [9935,0.03],[9950,-0.02],[9965,0.035],[9980,-0.01],[9992,0.04],[10000,0.0]];
var selF = [[5274,-1.62],[7239,0.40],[7234,0.35],[7352,0.15],[7335,-0.03]];

// ---- layout ----
var W = 3351, H = 3202;
var lineColor = '#0072bd';
var markColor = '#ff5312';
var axisColor = '#262626';
var gridColor = '#dddddd';

// box: [left, top, right, bottom]; legend: [offset from right, offset from top]
var panels = [
  { box: [202, 77, 1504, 689], xDomain: [3000, 11000], yDomain: [0.6, 1.5], xTicks: xTicksWide, xLabels: xTickLabelsWide,
    yTicks: yTicksA, yLabels: yTickLabelsA, spec: specA, sel: selA, legend: [-12, 12] },
  { box: [1978, 77, 3279, 689], xDomain: [3000, 11000], yDomain: [-1, 3], xTicks: xTicksWide, xLabels: xTickLabelsWide,
    yTicks: yTicksB, yLabels: yTickLabelsB, spec: specB, sel: selB, legend: [-12, 12] },
  { box: [202, 1163, 1504, 1777], xDomain: [4000, 11000], yDomain: [-25, 5], xTicks: xTicksNarrow, xLabels: xTickLabelsNarrow,
    yTicks: yTicksC, yLabels: yTickLabelsC, spec: specC, sel: selC, legend: [-2, -5] },
  { box: [1978, 1164, 3279, 1777], xDomain: [4000, 11000], yDomain: [-3, 3], xTicks: xTicksNarrow, xLabels: xTickLabelsNarrow,
    yTicks: yTicksD, yLabels: yTickLabelsD, spec: specD, sel: selD, legend: [-12, 12] },
  { box: [202, 2251, 1504, 2865], xDomain: [4000, 11000], yDomain: [-25, 4.95], xTicks: xTicksNarrow, xLabels: xTickLabelsNarrow,
    yTicks: yTicksE, yLabels: yTickLabelsE, spec: specE, sel: selE, legend: [-2, -3] },
  { box: [1978, 2251, 3279, 2865], xDomain: [4000, 11000], yDomain: [-2, 1.5], xTicks: xTicksNarrow, xLabels: xTickLabelsNarrow,
    yTicks: yTicksF, yLabels: yTickLabelsF, spec: specF, sel: selF, legend: [-12, 11] }
];

var svg = d3.select('body').append('svg')
  .attr('width', W)
  .attr('height', H)
  .attr('viewBox', '0 0 ' + W + ' ' + H);

svg.append('rect').attr('width', W).attr('height', H).attr('fill', '#fff');

function styleTicks(sel) {
  sel.select('.domain').remove();
  sel.attr('font-family', null).attr('font-size', null).attr('color', axisColor);
  sel.selectAll('.tick line').attr('stroke-width', 1.6);
  sel.selectAll('text')
    .attr('font-size', 43)
    .attr('font-weight', 'bold')
    .attr('fill', '#111');
}

panels.forEach(function (p, i) {
  var left = p.box[0], top = p.box[1], right = p.box[2], bottom = p.box[3];
  var cx = (left + right) / 2;
  var x = d3.scaleLinear().domain(p.xDomain).range([left, right]);
  var y = d3.scaleLinear().domain(p.yDomain).range([bottom, top]);
  var g = svg.append('g');

  // grid
  g.append('g').selectAll('line').data(p.xTicks).join('line')
    .attr('x1', function (d) { return x(d); }).attr('x2', function (d) { return x(d); })
    .attr('y1', top).attr('y2', bottom)
    .attr('stroke', gridColor).attr('stroke-width', 2);
  g.append('g').selectAll('line').data(p.yTicks).join('line')
    .attr('x1', left).attr('x2', right)
    .attr('y1', function (d) { return y(d); }).attr('y2', function (d) { return y(d); })
    .attr('stroke', gridColor).attr('stroke-width', 2);

  // spectrum
  var clipId = 'clip' + i;
  svg.append('clipPath').attr('id', clipId).append('rect')
    .attr('x', left).attr('y', top - 2).attr('width', right - left).attr('height', bottom - top + 4);
  var line = d3.line().x(function (d) { return x(d[0]); }).y(function (d) { return y(d[1]); });
  g.append('path').datum(p.spec)
    .attr('d', line)
    .attr('fill', 'none')
    .attr('stroke', lineColor)
    .attr('stroke-width', 2.6)
    .attr('stroke-linejoin', 'round')
    .attr('clip-path', 'url(#' + clipId + ')');

  // selected variables
  var mk = g.append('g').selectAll('g').data(p.sel).join('g')
    .attr('transform', function (d) { return 'translate(' + x(d[0]) + ',' + y(d[1]) + ')'; });
  mk.append('rect').attr('x', -6).attr('y', -5).attr('width', 12).attr('height', 10).attr('fill', markColor);
  mk.append('rect').attr('x', -1.2).attr('y', -1.2).attr('width', 2.4).attr('height', 2.4).attr('fill', '#dfe9f3');

  // axes (ticks inward on all four sides)
  var axB = g.append('g').attr('transform', 'translate(0,' + bottom + ')')
    .call(d3.axisBottom(x).tickValues(p.xTicks).tickFormat(function (d, k) { return p.xLabels[k]; })
      .tickSize(-13).tickSizeOuter(0).tickPadding(24));
  styleTicks(axB);
  var axT = g.append('g').attr('transform', 'translate(0,' + top + ')')
    .call(d3.axisTop(x).tickValues(p.xTicks).tickFormat('').tickSize(-13).tickSizeOuter(0));
  styleTicks(axT);
  var axL = g.append('g').attr('transform', 'translate(' + left + ',0)')
    .call(d3.axisLeft(y).tickValues(p.yTicks).tickFormat(function (d, k) { return p.yLabels[k]; })
      .tickSize(-13).tickSizeOuter(0).tickPadding(13));
  styleTicks(axL);
  var axR = g.append('g').attr('transform', 'translate(' + right + ',0)')
    .call(d3.axisRight(y).tickValues(p.yTicks).tickFormat('').tickSize(-13).tickSizeOuter(0));
  styleTicks(axR);

  g.append('rect')
    .attr('x', left).attr('y', top).attr('width', right - left).attr('height', bottom - top)
    .attr('fill', 'none').attr('stroke', axisColor).attr('stroke-width', 2);

  // title
  g.append('text')
    .attr('x', cx).attr('y', top - 17)
    .attr('text-anchor', 'middle')
    .attr('font-size', 48)
    .attr('fill', '#111')
    .text(titles[i]);

  // x label with superscript
  var xl = g.append('text')
    .attr('x', cx).attr('y', bottom + 121)
    .attr('text-anchor', 'middle')
    .attr('font-size', 48)
    .attr('font-weight', 'bold')
    .attr('fill', '#111');
  xl.append('tspan').text('Wave length(cm');
  xl.append('tspan').attr('font-size', 33).attr('dy', -22).attr('dx', 4).text('\u22121');
  xl.append('tspan').attr('dy', 22).text(')');

  // y label, placed left of the tick labels
  var bb = axL.node().getBBox();
  var yl = left + bb.x - 13;
  g.append('text')
    .attr('transform', 'translate(' + yl + ',' + ((top + bottom) / 2) + ') rotate(-90)')
    .attr('text-anchor', 'middle')
    .attr('font-size', 48)
    .attr('font-weight', 'bold')
    .attr('letter-spacing', 1)
    .attr('fill', '#111')
    .text('Absorbance');

  // panel letter: plain parentheses, bold letter
  var pl = g.append('text')
    .attr('x', cx - 27).attr('y', bottom + 304)
    .attr('text-anchor', 'middle')
    .attr('font-size', 80)
    .attr('fill', '#111');
  pl.append('tspan').text('(');
  pl.append('tspan').attr('font-weight', 'bold').text(panelLetters[i]);
  pl.append('tspan').text(')');

  // legend
  var lw = 443, lh = 93;
  var lg = g.append('g').attr('transform', 'translate(' + (right + p.legend[0] - lw) + ',' + (top + p.legend[1]) + ')');
  lg.append('rect').attr('width', lw).attr('height', lh)
    .attr('fill', '#fff').attr('stroke', axisColor).attr('stroke-width', 1.6);
  lg.append('line').attr('x1', 5).attr('x2', 48).attr('y1', 24).attr('y2', 24)
    .attr('stroke', lineColor).attr('stroke-width', 3);
  lg.append('rect').attr('x', 20.5).attr('y', 62).attr('width', 12).attr('height', 12).attr('fill', markColor);
  lg.append('rect').attr('x', 25.3).attr('y', 66.8).attr('width', 2.4).attr('height', 2.4).attr('fill', '#fff');
  lg.selectAll('text.lab').data(legendLabels).join('text')
    .attr('class', 'lab')
    .attr('x', 53)
    .attr('y', function (d, k) { return k === 0 ? 39 : 84; })
    .attr('font-size', 39)
    .attr('font-weight', 'bold')
    .attr('fill', '#111')
    .text(function (d) { return d; });
});
</script>
</body>
</html>
